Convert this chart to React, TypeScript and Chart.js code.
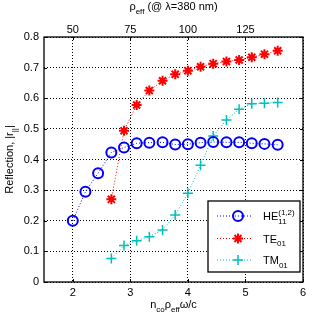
import React, { useEffect, useRef } from 'react';
import { Chart, registerables } from 'chart.js';

Chart.register(...registerables);

// ---- data ----
const xHE = [2.0, 2.22, 2.44, 2.67, 2.89, 3.11, 3.33, 3.56, 3.78, 4.0, 4.22, 4.44, 4.67, 4.89, 5.11, 5.33, 5.56];
const yHE = [0.2, 0.295, 0.355, 0.423, 0.439, 0.453, 0.455, 0.456, 0.449, 0.45, 0.455, 0.457, 0.456, 0.456, 0.453, 0.451, 0.448];

const xTE = [2.67, 2.89, 3.11, 3.33, 3.56, 3.78, 4.0, 4.22, 4.44, 4.67, 4.89, 5.11, 5.33, 5.56];
const yTE = [0.27, 0.494, 0.578, 0.625, 0.657, 0.678, 0.69, 0.703, 0.713, 0.72, 0.725, 0.734, 0.744, 0.755];

const xTM = [2.67, 2.89, 3.11, 3.33, 3.56, 3.78, 4.0, 4.22, 4.44, 4.67, 4.89, 5.11, 5.33, 5.56];
const yTM = [0.077, 0.119, 0.135, 0.148, 0.17, 0.219, 0.29, 0.381, 0.477, 0.529, 0.564, 0.582, 0.584, 0.586];

const xTicks = [2, 3, 4, 5, 6];
const xTickLabels = ['2', '3', '4', '5', '6'];
const yTicks = [0, 0.1, 0.2, 0.3, 0.4, 0.5, 0.6, 0.7, 0.8];
const yTickLabels = ['0', '0.1', '0.2', '0.3', '0.4', '0.5', '0.6', '0.7', '0.8'];
const topTicks = [50, 75, 100, 125];
const topTickLabels = ['50', '75', '100', '125'];

const FONT = '"Liberation Sans", Arial, Helvetica, sans-serif';
const BLUE = '#0000ff';
const RED = '#ff0000';
const CYAN = 'rgb(0,191,191)';

type Seg = { t: string; s?: 'sub' | 'sup'; stack?: boolean };

function richWidth(ctx: CanvasRenderingContext2D, segs: Seg[], size: number) {
  let w = 0;
  let prev = 0;
  for (const seg of segs) {
    ctx.font = `${seg.s ? Math.round(size * 0.72) : size}px ${FONT}`;
    const m = ctx.measureText(seg.t).width;
    if (seg.stack) {
      w += Math.max(0, m - prev);
      prev = Math.max(prev, m);
    } else {
      w += m;
      prev = m;
    }
  }
  return w;
}

function drawRich(ctx: CanvasRenderingContext2D, segs: Seg[], x: number, y: number, size: number, align: 'left' | 'center') {
  let cx = align === 'center' ? x - richWidth(ctx, segs, size) / 2 : x;
  ctx.textAlign = 'left';
  ctx.textBaseline = 'alphabetic';
  let lastX = cx;
  let lastW = 0;
  for (const seg of segs) {
    const fs = seg.s ? Math.round(size * 0.72) : size;
    ctx.font = `${fs}px ${FONT}`;
    const m = ctx.measureText(seg.t).width;
    const dy = seg.s === 'sub' ? size * 0.32 : seg.s === 'sup' ? -size * 0.45 : 0;
    if (seg.stack) {
      ctx.fillText(seg.t, lastX, y + dy);
      if (m > lastW) {
        cx = lastX + m;
        lastW = m;
      }
    } else {
      ctx.fillText(seg.t, cx, y + dy);
      lastX = cx;
      lastW = m;
      cx += m;
    }
  }
}

function marker(ctx: CanvasRenderingContext2D, kind: string, x: number, y: number, color: string) {
  ctx.save();
  ctx.strokeStyle = color;
  ctx.setLineDash([]);
  ctx.beginPath();
  if (kind === 'circle') {
    ctx.lineWidth = 2;
    ctx.arc(x, y, 5, 0, Math.PI * 2);
  } else if (kind === 'star') {
    ctx.lineWidth = 2;
    const r = 5;
    for (let k = 0; k < 4; k++) {
      const a = (k * Math.PI) / 4;
      ctx.moveTo(x - r * Math.cos(a), y - r * Math.sin(a));
      ctx.lineTo(x + r * Math.cos(a), y + r * Math.sin(a));
    }
  } else {
    ctx.lineWidth = 1.5;
    ctx.moveTo(x - 5, y);
    ctx.lineTo(x + 5, y);
    ctx.moveTo(x, y - 5);
    ctx.lineTo(x, y + 5);
  }
  ctx.stroke();
  ctx.restore();
}

const overlay = {
  id: 'overlay',
  afterDraw(chart: any) {
    const { ctx, chartArea: a, scales } = chart;
    ctx.save();
    // frame
    ctx.strokeStyle = '#000';
    ctx.lineWidth = 1.3;
    ctx.setLineDash([]);
    ctx.strokeRect(a.left, a.top, a.right - a.left, a.bottom - a.top);
    // inward ticks
    ctx.lineWidth = 1;
    ctx.beginPath();
    const tl = 3;
    for (const v of xTicks) {
      const px = Math.round(scales.x.getPixelForValue(v)) + 0.5;
      ctx.moveTo(px, a.bottom);
      ctx.lineTo(px, a.bottom - tl);
    }
    for (const v of topTicks) {
      const px = Math.round(scales.x2.getPixelForValue(v)) + 0.5;
      ctx.moveTo(px, a.top);
      ctx.lineTo(px, a.top + tl);
    }
    for (const v of yTicks) {
      const py = Math.round(scales.y.getPixelForValue(v)) + 0.5;
      ctx.moveTo(a.left, py);
      ctx.lineTo(a.left + tl, py);
      ctx.moveTo(a.right, py);
      ctx.lineTo(a.right - tl, py);
    }
    ctx.stroke();

    // titles
    ctx.fillStyle = '#000';
    const cx = (a.left + a.right) / 2;
    drawRich(ctx, [{ t: 'ρ' }, { t: 'eff', s: 'sub' }, { t: ' (@ λ=380 nm)' }], cx, 10, 11, 'center');
    drawRich(ctx, [{ t: 'n' }, { t: 'co', s: 'sub' }, { t: 'ρ' }, { t: 'eff', s: 'sub' }, { t: 'ω/c' }], cx, 308, 11, 'center');
    ctx.save();
    ctx.translate(13, (a.top + a.bottom) / 2);
    ctx.rotate(-Math.PI / 2);
    drawRich(ctx, [{ t: 'Reflection, |r' }, { t: '||', s: 'sub' }, { t: '|' }], 0, 0, 11, 'center');
    ctx.restore();

    // legend
    const lx = 208, ly = 201, lw = 92, lh = 71;
    ctx.fillStyle = '#fff';
    ctx.fillRect(lx, ly, lw, lh);
    ctx.strokeStyle = '#000';
    ctx.lineWidth = 1.3;
    ctx.strokeRect(lx, ly, lw, lh);
    const entries = [
      { color: BLUE, kind: 'circle', y: 216, segs: [{ t: 'HE' }, { t: '11', s: 'sub' }, { t: '(1,2)', s: 'sup', stack: true }] as Seg[] },
      { color: RED, kind: 'star', y: 238.5, segs: [{ t: 'TE' }, { t: '01', s: 'sub' }] as Seg[] },
      { color: CYAN, kind: 'cross', y: 260, segs: [{ t: 'TM' }, { t: '01', s: 'sub' }] as Seg[] },
    ];
    for (const e of entries) {
      ctx.strokeStyle = e.color;
      ctx.lineWidth = 1;
      ctx.setLineDash([1, 2]);
      ctx.beginPath();
      ctx.moveTo(217, e.y);
      ctx.lineTo(251, e.y);
      ctx.stroke();
      ctx.setLineDash([]);
      marker(ctx, e.kind, 238, e.y, e.color);
      ctx.fillStyle = '#000';
      drawRich(ctx, e.segs, 263, e.y + 4, 11, 'left');
    }
    ctx.restore();
  },
};

export default function App() {
  const ref = useRef<HTMLCanvasElement | null>(null);
  useEffect(() => {
    if (!ref.current) return;
    const tickFont = { family: FONT, size: 11 };
    const gridCommon = { color: '#000', lineWidth: 1, drawTicks: false };
    const chart = new Chart(ref.current, {
      type: 'scatter',
      data: {
        datasets: [
          {
            label: 'HE11',
            data: xHE.map((x, i) => ({ x, y: yHE[i] })),
            showLine: true,
            borderColor: BLUE,
            backgroundColor: 'rgba(0,0,0,0)',
            borderWidth: 1,
            borderDash: [1, 2],
            pointStyle: 'circle',
            pointRadius: 5,
            pointBorderWidth: 2,
            pointBorderColor: BLUE,
            pointBackgroundColor: 'rgba(0,0,0,0)',
          },
          {
            label: 'TE01',
            data: xTE.map((x, i) => ({ x, y: yTE[i] })),
            showLine: true,
            borderColor: RED,
            backgroundColor: RED,
            borderWidth: 1,
            borderDash: [1, 2],
            pointStyle: 'star',
            pointRadius: 5,
            pointBorderWidth: 2,
            pointBorderColor: RED,
          },
          {
            label: 'TM01',
            data: xTM.map((x, i) => ({ x, y: yTM[i] })),
            showLine: true,
            borderColor: CYAN,
            backgroundColor: CYAN,
            borderWidth: 1,
            borderDash: [1, 2],
            pointStyle: 'cross',
            pointRadius: 5,
            pointBorderWidth: 1.5,
            pointBorderColor: CYAN,
          },
        ],
      },
      options: {
        animation: false,
        responsive: true,
        maintainAspectRatio: false,
        layout: { padding: { left: 0, right: 33, top: 0, bottom: 0 } },
        plugins: { legend: { display: false }, tooltip: { enabled: false } },
        scales: {
          x: {
            type: 'linear',
            position: 'bottom',
            min: 1.5,
            max: 6,
            afterBuildTicks: (s: any) => {
              s.ticks = xTicks.map((v) => ({ value: v }));
            },
            afterFit: (s: any) => {
              s.height = 34;
            },
            grid: gridCommon,
            border: { display: false, dash: [1, 2] },
            ticks: { color: '#000', font: tickFont, padding: 4, maxRotation: 0, autoSkip: false, callback: (_v: any, i: number) => xTickLabels[i] },
          },
          x2: {
            type: 'linear',
            position: 'top',
            min: 37.5,
            max: 150,
            afterBuildTicks: (s: any) => {
              s.ticks = topTicks.map((v) => ({ value: v }));
            },
            afterFit: (s: any) => {
              s.height = 37;
            },
            grid: { display: false, drawTicks: false },
            border: { display: false },
            ticks: { color: '#000', font: tickFont, padding: 0, maxRotation: 0, autoSkip: false, callback: (_v: any, i: number) => topTickLabels[i] },
          },
          y: {
            type: 'linear',
            min: 0,
            max: 0.8,
            afterBuildTicks: (s: any) => {
              s.ticks = yTicks.map((v) => ({ value: v }));
            },
            afterFit: (s: any) => {
              s.width = 44;
            },
            grid: gridCommon,
            border: { display: false, dash: [1, 2] },
            ticks: { color: '#000', font: tickFont, padding: 5, autoSkip: false, callback: (_v: any, i: number) => yTickLabels[i] },
          },
        },
      },
      plugins: [overlay],
    } as any);
    return () => chart.destroy();
  }, []);
  return (
    <div style={{ position: 'fixed', left: 0, top: 0, width: 336, height: 316, background: '#fff' }}>
      <canvas ref={ref} />
    </div>
  );
}
